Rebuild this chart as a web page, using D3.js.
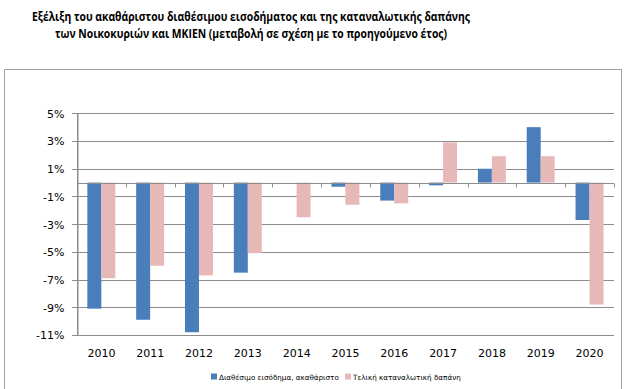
<!DOCTYPE html>
<html><head><meta charset="utf-8">
<script src="https://cdn.jsdelivr.net/npm/d3@7"></script>
<style>body{margin:0;background:#fff}svg{display:block}</style>
</head><body>
<svg id="c" width="628" height="389"></svg>
<script>
const titleLines = ["Εξέλιξη του ακαθάριστου διαθέσιμου εισοδήματος και της καταναλωτικής δαπάνης",
                    "των Νοικοκυριών και ΜΚΙΕΝ (μεταβολή σε σχέση με το προηγούμενο έτος)"];
const years = ["2010","2011","2012","2013","2014","2015","2016","2017","2018","2019","2020"];
const seriesNames = ["Διαθέσιμο εισόδημα, ακαθάριστο","Τελική καταναλωτική δαπάνη"];
const income = [-9.1,-9.9,-10.8,-6.5,0,-0.3,-1.3,-0.2,1.0,4.0,-2.7];
const consumption = [-6.9,-6.0,-6.7,-5.1,-2.5,-1.6,-1.5,2.9,1.9,1.9,-8.8];
const yTicks = [5,3,1,-1,-3,-5,-7,-9,-11];
const colors = ["#4a7ebb","#e6b9b8"];

const svg = d3.select("#c");
const L=77, R=614, T=113.3, B=335;

// outer frame
svg.append("rect").attr("x",4.5).attr("y",69.5).attr("width",617).attr("height",330)
  .attr("fill","none").attr("stroke","#a0a0a0").attr("stroke-width",1);

// title
const titleWidths = [438, 392];
svg.append("g").selectAll("text").data(titleLines).join("text")
  .attr("x",251).attr("y",(d,i)=>21+i*17).attr("text-anchor","middle")
  .attr("font-family","'Open Sans', sans-serif").attr("font-weight","bold")
  .attr("font-size",13).attr("fill","#000")
  .attr("textLength",(d,i)=>titleWidths[i]).attr("lengthAdjust","spacingAndGlyphs")
  .text(d=>d);

const y = d3.scaleLinear().domain([-11,5]).range([B,T]);
const x = d3.scaleBand().domain(years).range([L,R]).padding(0);
const bw = x.bandwidth();
const xs = d3.scaleBand().domain([0,1]).range([bw*0.212, bw*0.785]).padding(0);

// gridlines
svg.append("g").selectAll("line").data(yTicks).join("line")
  .attr("x1",L-5).attr("x2",R).attr("y1",d=>Math.round(y(d))+0.5).attr("y2",d=>Math.round(y(d))+0.5)
  .attr("stroke","#8c8c8c").attr("stroke-width",1);

// y axis
const yAxis = svg.append("g").attr("transform",`translate(${L+0.5},0)`)
  .call(d3.axisLeft(y).tickValues(yTicks).tickFormat(d=>d+"%").tickSize(0).tickPadding(13));
yAxis.select(".domain").attr("stroke","#8c8c8c");
yAxis.selectAll("text").attr("font-family","'DejaVu Sans', Verdana, sans-serif").attr("font-size",11).attr("fill","#000")
  .attr("dy","0.35em").attr("y",0);
yAxis.selectAll("line").remove();
svg.append("line").attr("x1",L+0.5).attr("x2",L+0.5).attr("y1",T).attr("y2",B).attr("stroke","#8c8c8c");

// bars
const data = years.map((yr,i)=>({yr, vals:[income[i],consumption[i]]}));
const g = svg.append("g");
data.forEach(d=>{
  d.vals.forEach((v,j)=>{
    if(v===0) return;
    g.append("rect")
      .attr("x",x(d.yr)+xs(j)).attr("width",xs.bandwidth())
      .attr("y",y(Math.max(0,v))).attr("height",Math.abs(y(v)-y(0)))
      .attr("fill",colors[j]);
  });
});

// zero axis with ticks
const y0 = Math.round(y(0))+0.5;
svg.append("line").attr("x1",L).attr("x2",R).attr("y1",y0).attr("y2",y0).attr("stroke","#8c8c8c");
svg.append("g").selectAll("line").data(years.slice(1).concat(["end"])).join("line")
  .attr("x1",d=>Math.round(d==="end"?R:x(d))+0.5).attr("x2",d=>Math.round(d==="end"?R:x(d))+0.5)
  .attr("y1",y0).attr("y2",y0+4).attr("stroke","#8c8c8c");

// x labels
svg.append("g").selectAll("text").data(years).join("text")
  .attr("x",d=>x(d)+bw/2).attr("y",357).attr("text-anchor","middle")
  .attr("font-family","'DejaVu Sans', Verdana, sans-serif").attr("font-size",11).attr("fill","#000")
  .text(d=>d);

// legend
const lg = svg.append("g");
const legendX = [211, 345];
seriesNames.forEach((n,i)=>{
  lg.append("rect").attr("x",legendX[i]).attr("y",373.5).attr("width",6).attr("height",6).attr("fill",colors[i]);
  lg.append("text").attr("x",legendX[i]+8).attr("y",379.5)
    .attr("font-family","'DejaVu Sans', Verdana, sans-serif").attr("font-size",7.2).attr("fill","#000").text(n);
});
</script>
</body></html>
